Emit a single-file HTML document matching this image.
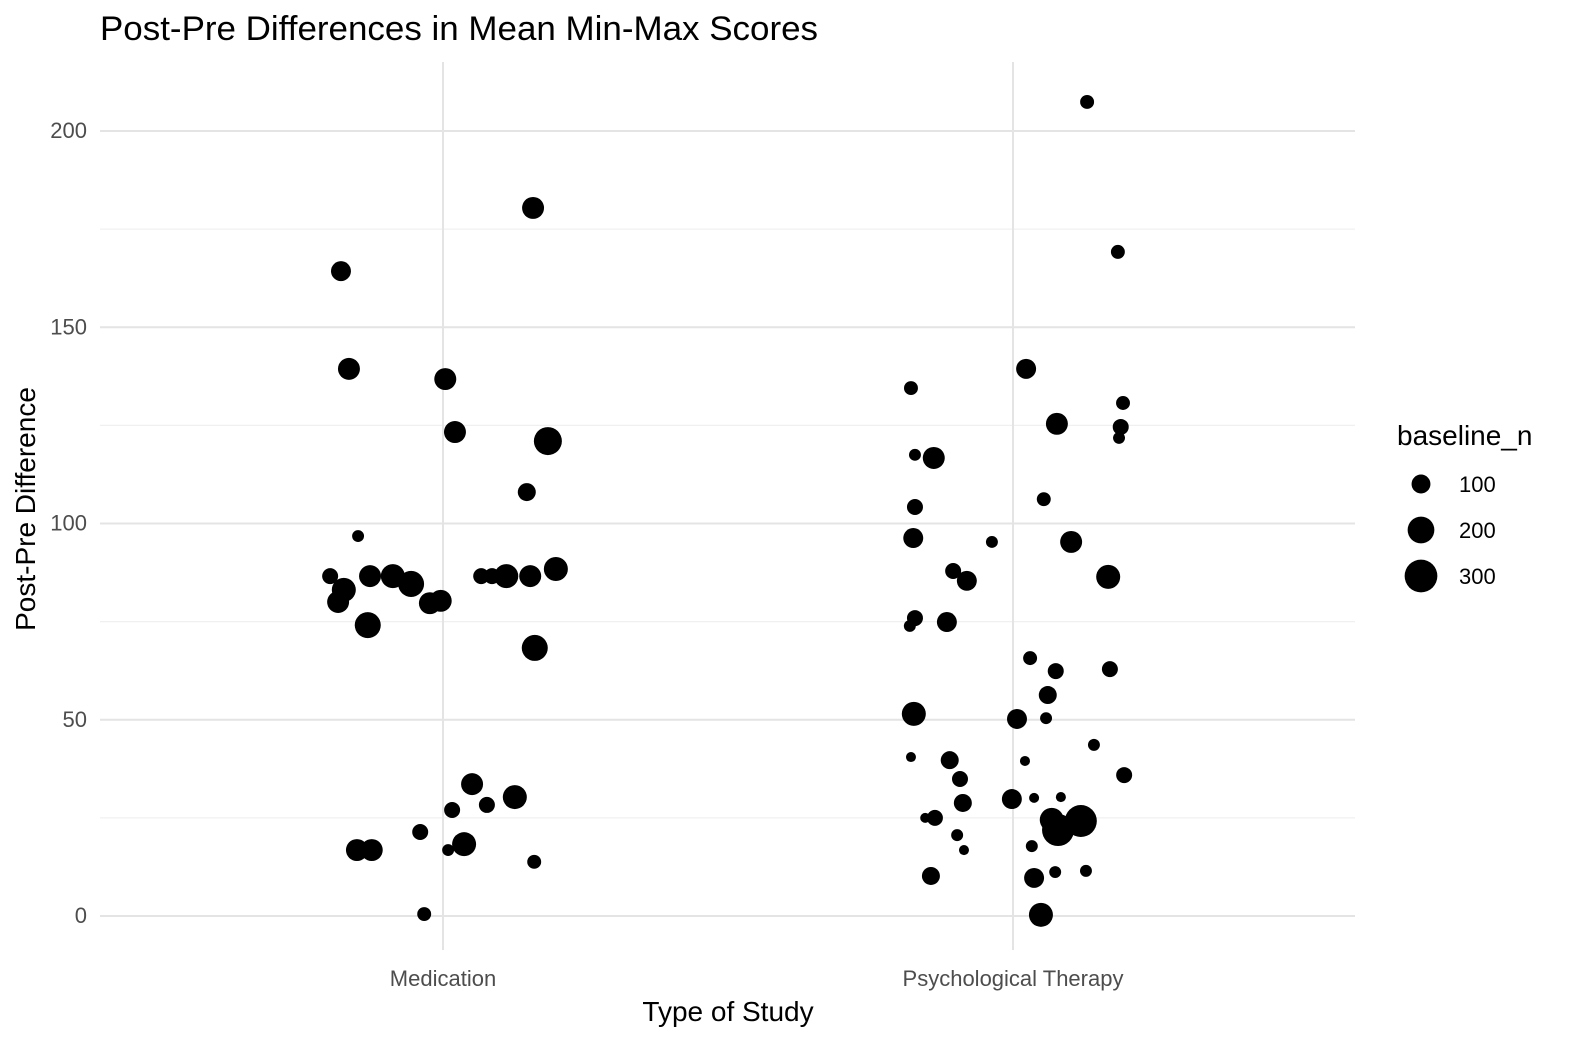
<!DOCTYPE html>
<html><head><meta charset="utf-8"><style>
body{margin:0;background:#fff;font-family:"Liberation Sans",Arial,sans-serif}
</style></head><body>
<svg id="chart" width="1580" height="1048" xmlns="http://www.w3.org/2000/svg" font-family="Liberation Sans, Arial, sans-serif">
<text x="100" y="40" font-size="34" fill="#000" textLength="718" lengthAdjust="spacingAndGlyphs">Post-Pre Differences in Mean Min-Max Scores</text>
<g id="grid"></g><g id="pts"></g><g id="axes"></g>
<text x="728" y="1021" font-size="28" text-anchor="middle">Type of Study</text>
<text transform="translate(35,509) rotate(-90)" font-size="28" text-anchor="middle">Post-Pre Difference</text>
<g id="legend">
<text x="1397" y="445" font-size="28">baseline_n</text>
</g>
</svg>
<script>
const categories=["Medication","Psychological Therapy"];
const yTicks=[0,50,100,150,200];
const legendSizes=[100,200,300];
const medJitter=[-0.179,-0.165,0.004,0.021,0.184,0.158,0.147,-0.149,-0.198,-0.174,-0.184,-0.128,-0.088,-0.056,-0.023,-0.004,-0.132,0.067,0.086,0.111,0.153,0.198,0.161,0.051,0.126,0.077,0.016,-0.040,0.037,0.009,-0.151,-0.125,0.160,-0.033];
const medDiff=[164.3,139.4,136.8,123.3,121.0,180.4,108.0,96.8,86.6,83.1,80.0,86.6,86.6,84.6,79.7,80.3,74.1,86.6,86.6,86.6,86.6,88.4,68.3,33.6,30.3,28.3,27.0,21.4,18.3,16.8,16.8,16.8,13.8,0.5];
const medN=[123,149,149,149,242,149,100,44,79,178,149,149,178,209,149,149,209,79,79,178,149,178,209,149,178,79,79,79,178,44,149,149,60,60];
const psyJitter=[0.130,0.184,-0.179,0.023,0.193,0.189,0.186,0.077,-0.172,-0.139,-0.172,0.054,-0.175,-0.037,0.102,-0.105,-0.081,0.167,-0.172,-0.181,-0.116,0.030,0.075,0.170,0.061,-0.174,0.007,0.058,0.142,-0.179,0.021,-0.111,-0.093,0.195,-0.002,-0.088,0.037,0.084,-0.154,-0.137,0.068,0.119,0.079,-0.098,-0.086,0.033,0.074,0.128,-0.144,0.037,0.049];
const psyDiff=[207.4,169.2,134.5,139.4,130.7,124.6,121.8,125.4,117.5,116.7,104.2,106.2,96.3,95.3,95.3,87.9,85.4,86.4,75.9,73.9,74.9,65.7,62.4,62.9,56.3,51.5,50.2,50.4,43.6,40.5,39.5,39.7,34.9,35.9,29.8,28.8,30.1,30.3,25.0,25.0,24.5,24.2,21.9,20.6,16.8,17.8,11.2,11.5,10.2,9.7,0.3];
const psyN=[60,60,60,123,60,79,44,149,44,149,79,60,123,44,149,79,123,178,79,44,123,60,79,79,100,178,123,44,44,31,31,100,79,79,123,100,31,31,31,79,178,316,316,44,31,44,44,44,100,123,178];
const NS="http://www.w3.org/2000/svg";
const L=100,R=1355,T=62,B=950;
const xScale=c=>443+c*570;
const yScale=v=>916-v*3.925;
const rScale=n=>0.9*Math.sqrt(n);
function mk(tag,attrs,parent){const e=document.createElementNS(NS,tag);for(const k in attrs)e.setAttribute(k,attrs[k]);parent.appendChild(e);return e;}
const grid=document.getElementById('grid'),axes=document.getElementById('axes'),pts=document.getElementById('pts'),leg=document.getElementById('legend');
for(let i=0;i<yTicks.length-1;i++){const v=(yTicks[i]+yTicks[i+1])/2;
const l=mk('line',{x1:L,x2:R,y1:yScale(v),y2:yScale(v),stroke:'#f0f0f0','stroke-width':1.2},grid);

}
yTicks.forEach(v=>{const l=mk('line',{x1:L,x2:R,y1:yScale(v),y2:yScale(v),stroke:'#e4e4e4','stroke-width':2},grid);


const t=mk('text',{x:87,y:yScale(v)+7,'font-size':22,fill:'#4d4d4d','text-anchor':'end'},axes);t.textContent=v;

});
categories.forEach((c,i)=>{const l=mk('line',{x1:xScale(i),x2:xScale(i),y1:T,y2:B,stroke:'#e4e4e4','stroke-width':2},grid);


const t=mk('text',{x:xScale(i),y:986,'font-size':22,fill:'#4d4d4d','text-anchor':'middle'},axes);t.textContent=c;

});
function plot(jit,diff,n,ci){for(let i=0;i<diff.length;i++){
const c=mk('circle',{cx:xScale(ci+jit[i]),cy:yScale(diff[i]),r:rScale(n[i]),fill:'#000'},pts);

}}
plot(medJitter,medDiff,medN,0);plot(psyJitter,psyDiff,psyN,1);
legendSizes.forEach((s,i)=>{const y=484+i*46;
const c=mk('circle',{cx:1421,cy:y,r:rScale(s)*1.05,fill:'#000'},leg);


const t=mk('text',{x:1459,y:y+8,'font-size':22,fill:'#000'},leg);t.textContent=s;

});
</script>
</body></html>
